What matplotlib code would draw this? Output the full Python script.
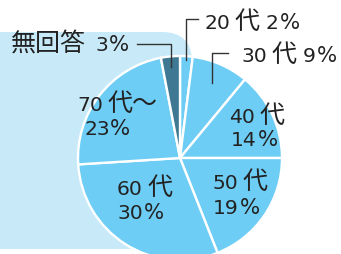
import matplotlib.pyplot as plt
import numpy as np
from matplotlib.patches import FancyBboxPatch
from matplotlib.offsetbox import AnnotationBbox, DrawingArea, HPacker, TextArea

# Data (clockwise from the top)
ages = ["20", "30", "40", "50", "60", "70"]
shares = [2, 9, 14, 19, 30, 23, 3]
no_answer = "無回答"
slice_colors = ["#6dcdf5", "#6dcdf5", "#6dcdf5", "#6dcdf5", "#6dcdf5", "#6dcdf5", "#3f7892"]

W, H = 341, 255
TEXT = "#222222"
LINE = "#333333"
NUM = dict(fontfamily="DejaVu Sans", fontsize=14.6, color=TEXT)
PCT = dict(fontfamily="DejaVu Sans", fontsize=15.4, color=TEXT)
KANJI = dict(fontfamily="Noto Sans CJK JP", fontsize=18, color=TEXT)

# pie geometry in pixel coords (y up)
CX, CY, R = 180, H - 159, 102


def py(y_img):
    return H - y_img


def wedge_point(i, frac):
    theta = np.deg2rad(90 - 3.6 * (sum(shares[:i]) + shares[i] / 2))
    return CX + R * frac * np.cos(theta), CY + R * frac * np.sin(theta)


def gap(w):
    return DrawingArea(w, 1)


def place(ax, parts, x, y_img, ha=0.0):
    box = HPacker(children=parts, sep=0, pad=0, align="baseline")
    ab = AnnotationBbox(box, (x, py(y_img)), frameon=False, pad=0,
                        box_alignment=(ha, 0.5), annotation_clip=False)
    ax.add_artist(ab)


def age_parts(age, tail=""):
    return [TextArea(age, textprops=NUM), gap(3.5), TextArea("代" + tail, textprops=KANJI)]


def pct_parts(v):
    return [TextArea(str(v), textprops=NUM), gap(0.5), TextArea("%", textprops=PCT)]


fig = plt.figure(figsize=(W / 100, H / 100), dpi=100)
ax = fig.add_axes([0, 0, 1, 1])

bg = FancyBboxPatch((-40, py(250)), 232, 250 - 33, boxstyle="round,pad=0,rounding_size=30",
                    facecolor="#c8eaf8", edgecolor="none", zorder=0)
ax.add_patch(bg)

ax.pie(shares, colors=slice_colors, startangle=90, counterclock=False,
       center=(CX, CY), radius=R,
       wedgeprops=dict(edgecolor="white", linewidth=1.7))

# labels inside the slices
place(ax, age_parts(ages[2]), 229, 116)
place(ax, pct_parts(shares[2]), 231, 140)
place(ax, age_parts(ages[3]), 212, 182)
place(ax, pct_parts(shares[3]), 213, 208)
place(ax, age_parts(ages[4]), 117, 188)
place(ax, pct_parts(shares[4]), 117, 213)
place(ax, age_parts(ages[5], "～"), 77, 104)
place(ax, pct_parts(shares[5]), 84, 129)

# labels outside with leader lines
x0, y0 = wedge_point(0, 0.96)
ax.plot([x0, x0, x0 + 12], [y0, py(20), py(20)], color=LINE, lw=1.0)
place(ax, age_parts(ages[0]) + [gap(4.5)] + pct_parts(shares[0]), 204, 22)

x1, y1 = wedge_point(1, 0.8)
ax.plot([x1, x1, x1 + 16], [y1, py(54), py(54)], color=LINE, lw=1.0)
place(ax, age_parts(ages[1]) + [gap(4.5)] + pct_parts(shares[1]), 241, 55)

x6, y6 = wedge_point(6, 0.9)
ax.plot([x6, x6, 137], [y6, py(45), py(45)], color=LINE, lw=1.0)
place(ax, [TextArea(no_answer, textprops=KANJI), gap(6.5)] + pct_parts(shares[6]), 129, 44, ha=1.0)

ax.set_xlim(0, W)
ax.set_ylim(0, H)
ax.set_aspect("equal")
ax.set_axis_off()

fig.savefig("out.png", dpi=100)
